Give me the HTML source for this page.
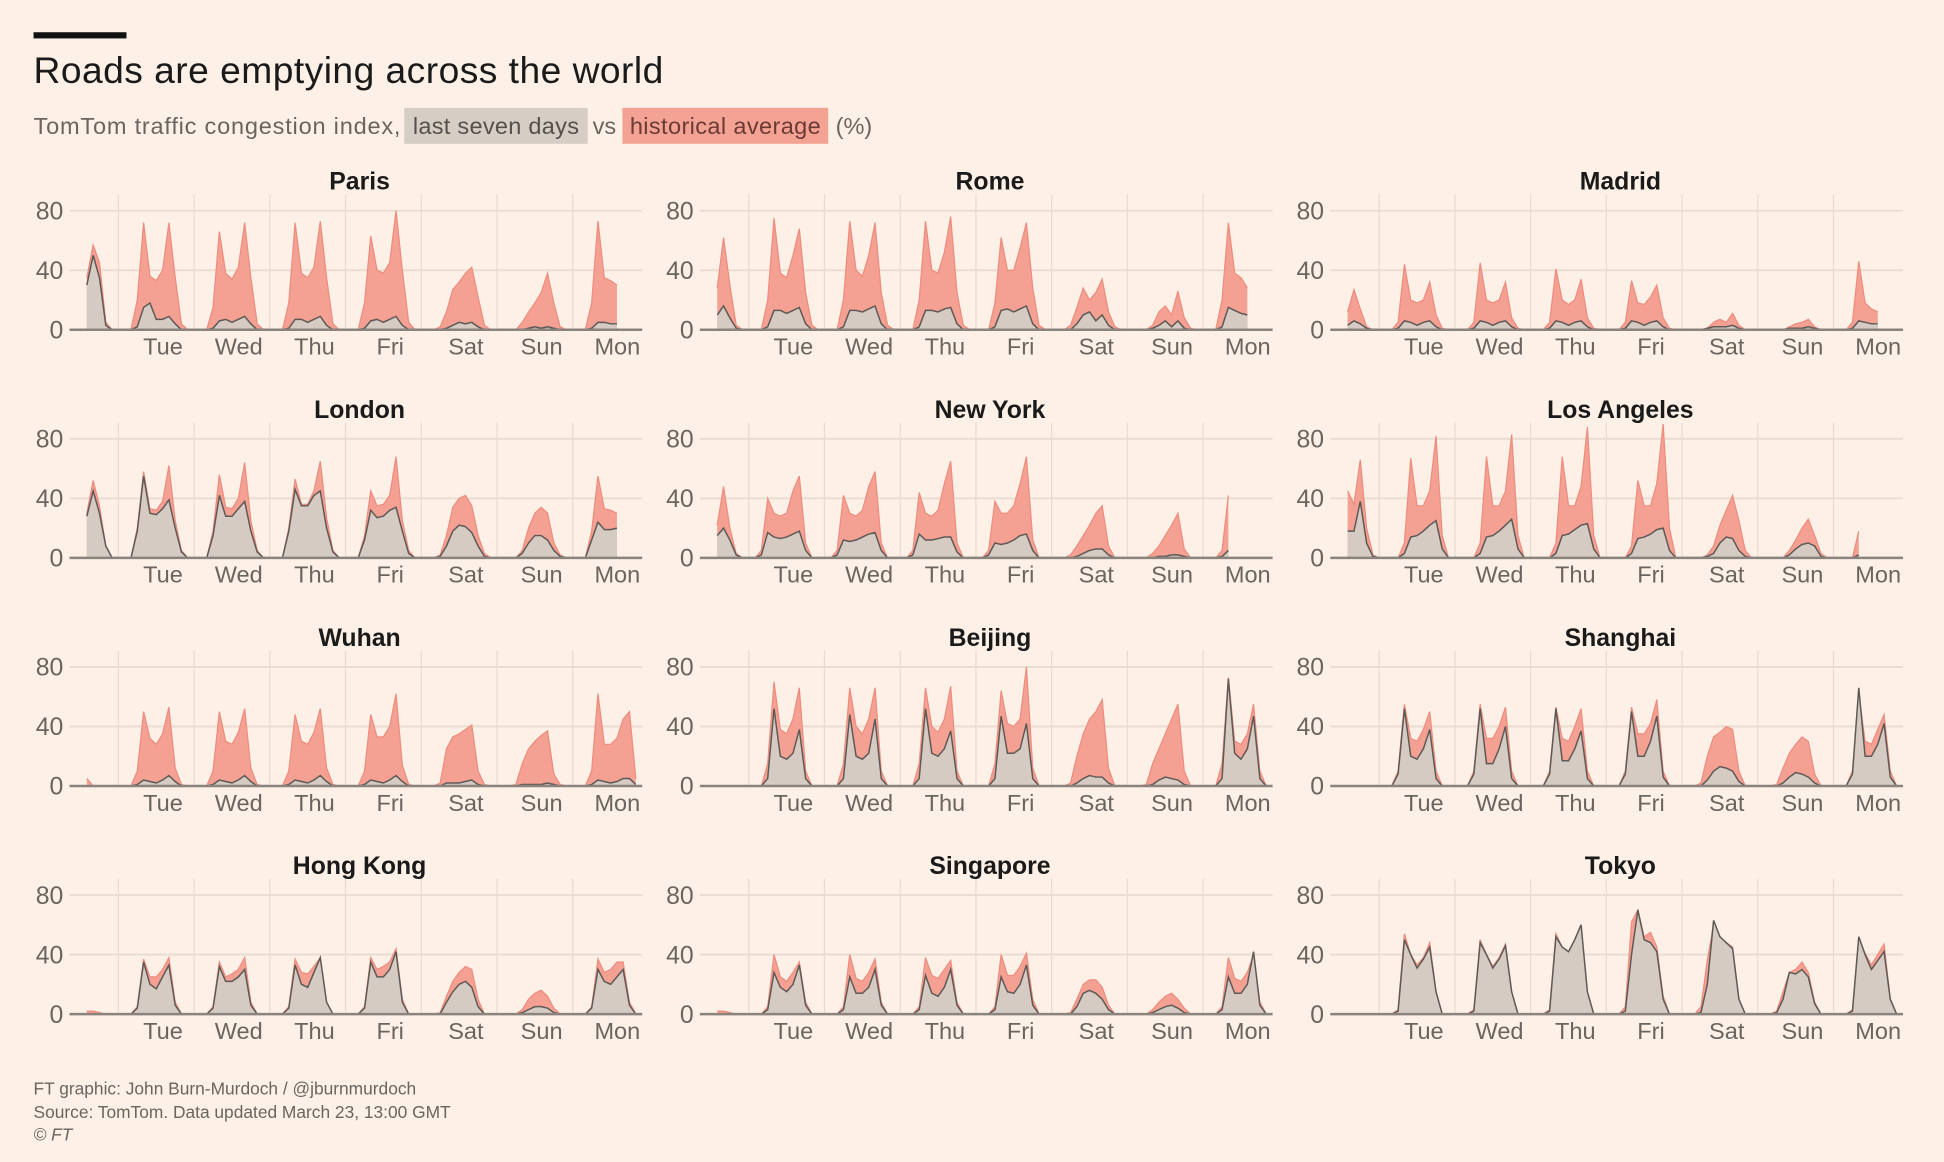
<!DOCTYPE html>
<html><head><meta charset="utf-8"><style>
html,body{margin:0;padding:0;background:#fdf0e6;}
svg{display:block;}
text{font-family:"Liberation Sans",sans-serif;}
</style></head><body>
<svg id="chart" width="1944" height="1162" viewBox="0 0 1568 937.3" xmlns="http://www.w3.org/2000/svg">
<rect x="0" y="0" width="1568" height="937.3" fill="#fdf0e6"/>
<rect x="27" y="26" width="75" height="5" fill="#111"/>
<text x="27" y="67" font-size="30" fill="#1a1a1a" textLength="508">Roads are emptying across the world</text>
<g>
<rect x="326" y="87" width="148" height="29" fill="#d6cdc5"/>
<rect x="502" y="87" width="166" height="29" fill="#f4a294"/>
<text x="27" y="108" font-size="19" fill="#6b6560" textLength="296">TomTom traffic congestion index,</text>
<text x="333" y="108" font-size="19" fill="#55504c" textLength="134">last seven days</text>
<text x="478" y="108" font-size="19" fill="#6b6560">vs</text>
<text x="508" y="108" font-size="19" fill="#6a3a34" textLength="154">historical average</text>
<text x="674" y="108" font-size="19" fill="#6b6560">(%)</text>
</g>
<g id="panels"></g>
<text x="27" y="883" font-size="14" fill="#6b6560">FT graphic: John Burn-Murdoch / @jburnmurdoch</text>
<text x="27" y="902" font-size="14" fill="#6b6560">Source: TomTom. Data updated March 23, 13:00 GMT</text>
<text x="27" y="920" font-size="14" font-style="italic" fill="#6b6560">© FT</text>
</svg>
<script>
const cities = ["Paris","Rome","Madrid","London","New York","Los Angeles","Wuhan","Beijing","Shanghai","Hong Kong","Singapore","Tokyo"];
const dayLabels = ["Tue","Wed","Thu","Fri","Sat","Sun","Mon"];
const yTicks = [0,40,80];
const startHour = -10;
const stepHours = 2;

const parisHist = [35,57,45,5,0, 0,0,0,20,72,36,33,40,72,35,4,0, 0,0,0,15,66,38,34,42,72,35,4,0, 0,0,0,18,72,38,35,42,73,35,4,0, 0,0,0,18,63,40,38,45,80,40,5,0, 0,0,0,2,12,27,32,38,42,22,3,0, 0,0,0,0,5,12,18,25,38,18,2,0, 0,0,0,18,73,35,33,30];
const parisLast = [30,50,35,3,0, 0,0,0,2,15,18,7,7,9,4,0,0, 0,0,0,1,6,7,5,7,9,4,0,0, 0,0,0,1,7,7,5,7,9,3,0,0, 0,0,0,1,6,7,5,7,9,3,0,0, 0,0,0,0,1,3,5,4,5,2,0,0, 0,0,0,0,0,1,2,1,2,1,0,0, 0,0,0,1,5,5,4,4];
const romeHist = [28,62,30,3,0, 0,0,0,20,75,38,35,50,68,25,3,0, 0,0,0,20,73,40,36,50,72,25,3,0, 0,0,0,20,73,40,38,52,76,25,3,0, 0,0,0,18,62,40,40,55,72,28,3,0, 0,0,0,3,15,28,20,25,34,12,2,0, 0,0,0,0,3,12,16,10,26,8,1,0, 0,0,0,20,72,38,35,28];
const romeLast = [10,16,8,1,0, 0,0,0,2,13,13,11,13,15,4,0,0, 0,0,0,2,13,13,12,14,16,4,0,0, 0,0,0,2,13,13,12,14,15,4,0,0, 0,0,0,2,13,14,12,14,16,4,0,0, 0,0,0,0,4,10,12,6,10,3,0,0, 0,0,0,0,1,3,6,2,6,1,0,0, 0,0,0,2,15,13,11,10];
const madridHist = [12,27,14,2,0, 0,0,0,5,44,20,18,20,32,10,1,0, 0,0,0,5,45,20,18,20,32,8,1,0, 0,0,0,5,41,20,17,20,34,8,1,0, 0,0,0,5,33,18,17,22,30,8,1,0, 0,0,0,0,1,5,7,5,11,3,0,0, 0,0,0,0,0,2,4,5,7,2,0,0, 0,0,0,5,46,18,14,12];
const madridLast = [3,6,4,1,0, 0,0,0,1,6,5,3,5,6,2,0,0, 0,0,0,1,6,5,3,5,6,2,0,0, 0,0,0,1,6,5,3,5,6,2,0,0, 0,0,0,1,6,5,3,5,6,2,0,0, 0,0,0,0,1,2,2,2,3,1,0,0, 0,0,0,0,0,1,1,1,2,1,0,0, 0,0,0,1,6,5,4,4];
const londonHist = [30,52,35,8,0, 0,0,0,20,58,33,32,38,62,25,5,0, 0,0,0,18,56,34,33,40,64,25,5,0, 0,0,0,20,53,36,36,45,65,27,5,0, 0,0,0,15,45,35,36,42,68,25,5,0, 0,0,0,2,15,34,40,42,35,15,3,0, 0,0,0,0,5,20,30,34,30,10,2,0, 0,0,0,18,55,33,32,30];
const londonLast = [28,45,30,8,0, 0,0,0,18,55,30,29,33,39,20,4,0, 0,0,0,15,42,28,28,33,38,18,4,0, 0,0,0,18,46,35,35,42,45,20,4,0, 0,0,0,12,32,27,28,32,34,18,3,0, 0,0,0,1,8,18,22,21,17,8,1,0, 0,0,0,0,3,10,15,15,12,5,1,0, 0,0,0,12,24,19,19,20];
const newYorkHist = [22,48,20,3,0, 0,0,5,40,30,28,30,45,55,10,0,0, 0,0,5,42,30,28,32,48,58,10,0,0, 0,0,5,44,30,28,32,50,65,10,0,0, 0,0,5,38,30,30,35,50,68,12,0,0, 0,0,0,2,8,15,22,30,35,8,0,0, 0,0,0,0,3,8,15,22,30,6,0,0, 0,0,0,5,42];
const newYorkLast = [15,20,12,2,0, 0,0,2,17,14,13,14,16,18,5,0,0, 0,0,2,12,11,12,14,16,17,5,0,0, 0,0,2,16,12,12,13,14,14,4,0,0, 0,0,2,10,9,10,12,15,16,5,0,0, 0,0,0,0,1,3,5,6,6,2,0,0, 0,0,0,0,0,1,1,2,2,1,0,0, 0,0,0,1,5];
const laHist = [45,36,66,20,2, 0,0,0,0,10,67,35,35,45,82,15,0, 0,0,0,0,10,68,35,35,45,83,15,0, 0,0,0,0,10,68,35,35,48,88,15,0, 0,0,0,0,8,52,35,35,50,90,20,0, 0,0,0,0,2,8,22,32,42,25,5,0, 0,0,0,0,0,5,12,20,26,15,3,0, 0,0,0,0,18];
const laLast = [18,18,38,10,1, 0,0,0,0,3,14,15,18,22,25,6,0, 0,0,0,0,3,14,15,18,22,26,6,0, 0,0,0,0,3,15,16,19,22,23,6,0, 0,0,0,0,3,13,14,16,19,20,5,0, 0,0,0,0,1,3,10,14,13,5,1,0, 0,0,0,0,0,2,6,9,10,8,1,0, 0,0,0,0,2];
const wuhanHist = [5,0,0,0,0, 0,0,0,10,50,32,28,35,53,12,1,0, 0,0,0,10,50,30,28,36,52,12,1,0, 0,0,0,10,48,30,28,36,52,12,1,0, 0,0,0,10,48,33,33,40,62,14,1,0, 0,0,0,2,25,33,35,38,41,10,1,0, 0,0,0,1,15,25,30,34,37,8,1,0, 0,0,0,10,62,28,28,32,45,50,5];
const wuhanLast = [0,0,0,0,0, 0,0,0,1,4,3,2,4,7,3,0,0, 0,0,0,1,4,3,2,4,7,3,0,0, 0,0,0,1,4,3,2,4,7,3,0,0, 0,0,0,1,4,3,2,4,7,3,0,0, 0,0,0,0,2,2,2,3,4,1,0,0, 0,0,0,0,1,1,1,1,2,1,0,0, 0,0,0,1,4,3,2,3,5,5,1];
const beijingHist = [0,0,0,0,0, 0,0,0,15,70,38,35,45,66,10,0,0, 0,0,0,15,66,40,35,45,66,10,0,0, 0,0,0,15,66,40,36,45,67,10,0,0, 0,0,0,15,64,42,40,45,80,12,0,0, 0,0,0,2,20,35,45,50,58,12,0,0, 0,0,0,1,15,25,35,45,55,10,0,0, 0,0,0,15,73,30,28,35,55,10,0];
const beijingLast = [0,0,0,0,0, 0,0,0,5,52,20,18,22,38,5,0,0, 0,0,0,5,48,20,18,22,45,5,0,0, 0,0,0,5,52,22,20,25,37,5,0,0, 0,0,0,5,47,22,22,25,42,5,0,0, 0,0,0,0,2,5,7,6,6,2,0,0, 0,0,0,0,1,4,6,5,4,1,0,0, 0,0,0,5,72,22,18,25,47,5,0];
const shanghaiHist = [0,0,0,0,0, 0,0,0,10,55,32,30,38,50,10,0,0, 0,0,0,10,55,32,32,40,53,10,0,0, 0,0,0,10,53,32,30,40,52,10,0,0, 0,0,0,10,53,35,35,42,58,10,0,0, 0,0,0,2,20,33,36,40,38,10,0,0, 0,0,0,1,12,22,28,33,30,8,0,0, 0,0,0,10,62,30,28,38,48,10,0];
const shanghaiLast = [0,0,0,0,0, 0,0,0,8,52,20,18,25,38,5,0,0, 0,0,0,8,52,15,15,25,40,5,0,0, 0,0,0,8,52,17,17,25,37,5,0,0, 0,0,0,8,50,20,20,30,47,6,0,0, 0,0,0,0,4,10,13,12,10,3,0,0, 0,0,0,0,2,6,9,8,6,2,0,0, 0,0,0,8,66,20,20,28,42,6,0];
const hongKongHist = [2,2,1,0,0, 0,0,0,5,37,25,25,30,38,8,0,0, 0,0,0,5,35,25,27,30,38,8,0,0, 0,0,0,5,37,28,27,32,38,8,0,0, 0,0,0,5,38,30,32,35,44,10,0,0, 0,0,0,1,12,22,28,32,30,10,0,0, 0,0,0,0,3,10,14,16,12,4,0,0, 0,0,0,5,37,28,30,35,35,8,0];
const hongKongLast = [0,0,0,0,0, 0,0,0,4,35,20,17,25,33,6,0,0, 0,0,0,4,32,22,22,25,30,6,0,0, 0,0,0,4,33,20,18,28,38,8,0,0, 0,0,0,4,35,25,25,30,42,8,0,0, 0,0,0,0,8,15,20,22,18,5,0,0, 0,0,0,0,1,3,5,5,4,1,0,0, 0,0,0,4,30,22,20,25,30,6,0];
const singaporeHist = [2,2,1,0,0, 0,0,0,5,40,25,22,28,35,8,0,0, 0,0,0,5,40,24,22,28,37,8,0,0, 0,0,0,5,38,26,24,30,36,8,0,0, 0,0,0,5,40,26,26,32,41,10,0,0, 0,0,0,1,10,20,23,23,18,6,0,0, 0,0,0,0,3,8,12,14,10,4,0,0, 0,0,0,5,38,24,22,28,40,8,0];
const singaporeLast = [0,0,0,0,0, 0,0,0,3,28,18,15,20,33,6,0,0, 0,0,0,3,25,14,14,18,30,6,0,0, 0,0,0,3,26,14,12,18,30,6,0,0, 0,0,0,3,25,15,14,20,33,6,0,0, 0,0,0,0,5,14,16,14,10,3,0,0, 0,0,0,0,1,3,5,6,4,1,0,0, 0,0,0,3,25,14,14,20,42,6,0];
const tokyoHist = [0,0,0,0,0, 0,0,0,3,54,40,33,38,48,15,0,0, 0,0,0,3,50,40,32,38,47,15,0,0, 0,0,0,3,54,45,42,50,58,15,0,0, 0,0,0,5,62,70,52,55,45,12,0,0, 0,0,0,5,36,60,52,48,45,10,0,0, 0,0,0,2,15,28,30,35,28,8,0,0, 0,0,0,3,50,41,33,40,47,10,0];
const tokyoLast = [0,0,0,0,0, 0,0,0,2,50,40,31,37,45,15,0,0, 0,0,0,2,48,40,31,37,46,15,0,0, 0,0,0,2,52,45,42,50,60,15,0,0, 0,0,0,2,40,70,50,48,42,10,0,0, 0,0,0,1,20,63,52,48,44,10,0,0, 0,0,0,1,10,28,27,30,25,7,0,0, 0,0,0,2,52,40,30,36,42,10,0];

const histSeries = [parisHist,romeHist,madridHist,londonHist,newYorkHist,laHist,wuhanHist,beijingHist,shanghaiHist,hongKongHist,singaporeHist,tokyoHist];
const lastSeries = [parisLast,romeLast,madridLast,londonLast,newYorkLast,laLast,wuhanLast,beijingLast,shanghaiLast,hongKongLast,singaporeLast,tokyoLast];

const NS = "http://www.w3.org/2000/svg";
const root = document.getElementById('panels');
function mk(tag, attrs, parent){const e=document.createElementNS(NS,tag);for(const k in attrs)e.setAttribute(k,attrs[k]);parent.appendChild(e);return e;}

cities.forEach((city, ci) => {
  const col = ci % 3, row = Math.floor(ci / 3);
  const ox = col * 508.5, oy = row * 184;
  const g = mk('g', {}, root);
  
  
  const xs = t => ox + 70 + (t - startHour) * 2.545;
  const ys = v => oy + 266 - v * 1.2;
  const t1 = mk('text', {x: ox + 290, y: oy + 153, 'font-size': 20, 'font-weight': 'bold', fill: '#1a1a1a', 'text-anchor': 'middle'}, g);
  t1.textContent = city;
  
  
  yTicks.forEach(v => {
    if (v > 0) {
      const gl = mk('line', {x1: ox + 56, x2: ox + 518, y1: ys(v), y2: ys(v), stroke: '#e8dbd0', 'stroke-width': 1.5}, g);
      
      
    }
    const tl = mk('text', {x: ox + 51, y: ys(v) + 7, 'font-size': 20, fill: '#6b6560', 'text-anchor': 'end'}, g);
    tl.textContent = v;
    
    
  });
  dayLabels.forEach((d, di) => {
    const t = di * 24;
    const vl = mk('line', {x1: xs(t), x2: xs(t), y1: oy + 157, y2: ys(0), stroke: '#e8dbd0', 'stroke-width': 1}, g);
    
    
    const dl = mk('text', {x: xs(t) + 36, y: oy + 286, 'font-size': 19, fill: '#6b6560', 'text-anchor': 'middle'}, g);
    dl.textContent = d;
    
    
  });
  function areaPath(arr){
    let p = 'M' + xs(startHour).toFixed(1) + ',' + ys(0).toFixed(1);
    arr.forEach((v, i) => { p += 'L' + xs(startHour + i * stepHours).toFixed(1) + ',' + ys(v).toFixed(1); });
    p += 'L' + xs(startHour + (arr.length - 1) * stepHours).toFixed(1) + ',' + ys(0).toFixed(1) + 'Z';
    return p;
  }
  function linePath(arr){
    return arr.map((v, i) => (i ? 'L' : 'M') + xs(startHour + i * stepHours).toFixed(1) + ',' + ys(v).toFixed(1)).join('');
  }
  const ha = mk('path', {d: areaPath(histSeries[ci]), fill: '#f4a193', stroke: 'none'}, g);
  
  
  const hl = mk('path', {d: linePath(histSeries[ci]), fill: 'none', stroke: '#ee8c7e', 'stroke-width': 1}, g);
  
  
  const la = mk('path', {d: areaPath(lastSeries[ci]), fill: '#d5cbc2', stroke: 'none'}, g);
  
  
  const ll = mk('path', {d: linePath(lastSeries[ci]), fill: 'none', stroke: '#5e5956', 'stroke-width': 1.2}, g);
  
  
  const ax = mk('line', {x1: ox + 56, x2: ox + 518, y1: ys(0), y2: ys(0), stroke: '#8a837e', 'stroke-width': 2}, g);
  
  
});
</script>
</body></html>
